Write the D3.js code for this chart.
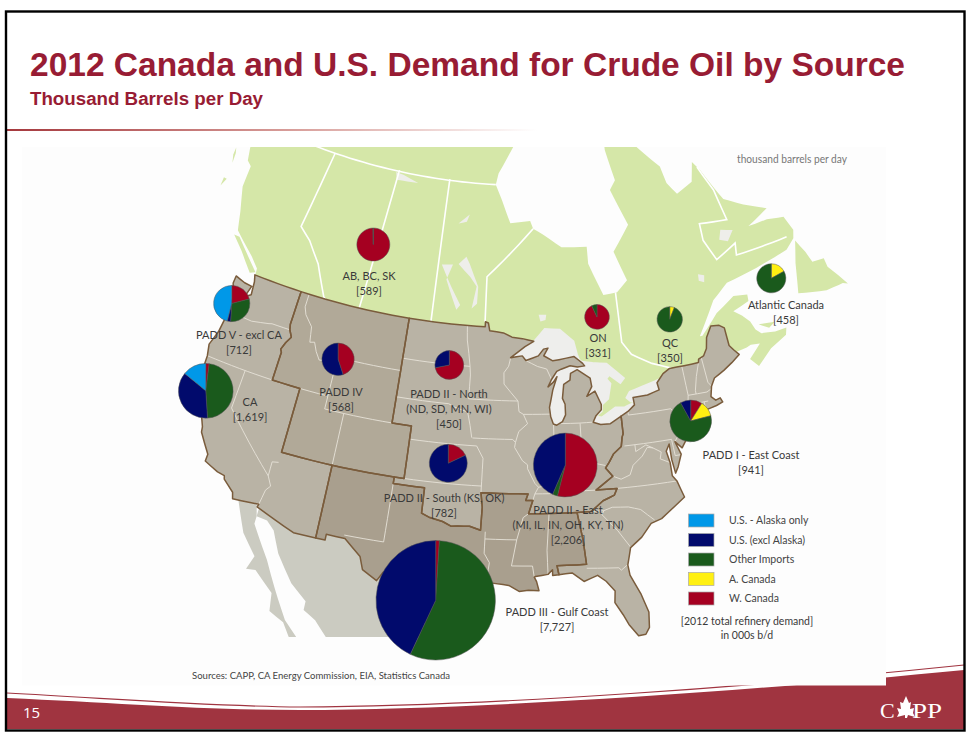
<!DOCTYPE html>
<html lang="en">
<head>
<meta charset="UTF-8">
<title>2012 Canada and U.S. Demand for Crude Oil by Source</title>
<script src="https://d3js.org/d3.v7.min.js"></script>
<style>
  body { margin: 0; background: #fff; }
  svg { display: block; }
</style>
</head>
<body>
<script>
// ---- chart data: share of each region's refinery demand, percent
var sources = ["W. Canada", "A. Canada", "Other Imports", "U.S. (excl Alaska)", "U.S. - Alaska only"];
var sourceColors = ["#a50021", "#fff012", "#1a5a1c", "#010a6c", "#0098e8"];
var legendOrder = [4, 3, 2, 1, 0];

var regions = ["AB, BC, SK", "PADD V - excl CA", "CA", "PADD IV", "PADD II - North", "PADD II - South", "PADD II - East", "PADD III", "PADD I", "ON", "QC", "Atlantic Canada"];
var totals = [589, 712, 1619, 568, 450, 782, 2206, 7727, 941, 331, 350, 458];
var wCanada = [99.7, 21, 2, 45, 72, 18, 54, 1, 9, 93, 0, 0];
var aCanada = [0, 0, 0, 0, 0, 0, 0, 0, 12, 0, 6, 17];
var otherImports = [0.3, 30, 47, 0, 0, 0, 2.5, 56, 71, 7, 94, 83];
var usExAlaska = [0, 3, 37, 55, 28, 82, 43.5, 43, 8, 0, 0, 0];
var alaskaOnly = [0, 46, 14, 0, 0, 0, 0, 0, 0, 0, 0, 0];

// where each pie sits on the map, lon/lat
var pieSites = [[-110.13,53.96],[-123.95,46.33],[-122.99,39.51],[-110.95,44.87],[-98.85,45.90],[-97.97,38.53],[-86.50,38.63],[-97.95,28.03],[-73.56,40.82],[-82.02,49.60],[-73.65,48.63],[-60.92,49.58]];

var labelLines = [
  ["AB, BC, SK", "[589]"], ["PADD V - excl CA", "[712]"], ["CA", "[1,619]"], ["PADD IV", "[568]"],
  ["PADD II - North", "(ND, SD, MN, WI)", "[450]"], ["PADD II - South (KS, OK)", "[782]"],
  ["PADD II - East", "(MI, IL, IN, OH, KY, TN)", "[2,206]"], ["PADD III - Gulf Coast", "[7,727]"],
  ["PADD I - East Coast", "[941]"], ["ON", "[331]"], ["QC", "[350]"], ["Atlantic Canada", "[458]"]
];
var labelAt = [[369, 280], [239, 339], [250, 406], [341, 396], [449, 398], [444, 502], [568, 514], [557, 616], [751, 459], [598, 342], [670, 347], [786, 309]];

// ---- map outlines, lon/lat
var north49 = [[-104.05,49],[-117.03,49]];
var paddVIV = [[-117.03,49],[-117.04,46.4],[-116.9,46],[-116.5,45.5],[-116.9,45],[-117.2,44.4],[-117.03,44.2],[-117.03,42],[-114.05,42],[-114.05,37],[-109.05,37]];
var paddIVII = [[-104.05,49],[-104.05,41],[-102.05,41],[-102.05,37],[-103,37]];
var paddIVIII = [[-103,37],[-109.05,37]];
var paddVIII = [[-109.05,37],[-109.05,31.33]];
var paddIIIII = [[-103,37],[-103,36.5],[-100,36.5],[-100,34.56],[-99.2,34.3],[-98,34.1],[-97.2,33.8],[-96.6,33.85],[-95.5,33.9],[-94.48,33.64],[-94.43,35.4],[-94.62,36.5],[-90.15,36.5],[-90.37,36],[-89.7,36],[-90.1,35],[-88.2,35],[-85.6,35]];
var paddIIII = [[-85.6,35],[-85.18,32.87],[-85,31],[-87.6,31],[-87.45,30.3]];
var paddIII = [[-80.52,41.98],[-80.52,40.64],[-80.66,40.4],[-80.85,39.7],[-81.7,39.2],[-82.2,38.6],[-82.6,38.2],[-81.97,37.54],[-83.68,36.6],[-81.68,36.59],[-82,36.1],[-83.1,35.75],[-84.3,35],[-85.6,35]];
var paddVCoast = [[-117.03,49],[-122.75,49],[-122.5,48.5],[-122.3,47.5],[-122.9,47.2],[-122.6,48.1],[-123.5,48.15],[-124.7,48.38],[-124.7,47.8],[-124.1,46.9],[-124,46.2],[-124,45],[-124.1,44],[-124.5,42.85],[-124.2,42],[-124.1,41],[-124.4,40.4],[-123.8,39.3],[-123,38.3],[-122.5,37.7],[-122,36.9],[-121.9,36.5],[-120.6,35.1],[-120.6,34.55],[-119.2,34.1],[-118.5,34],[-118.4,33.75],[-117.3,33],[-117.12,32.53],[-114.72,32.72],[-114.8,32.5],[-111.07,31.33],[-109.05,31.33]];
var paddIIICoast = [[-109.05,31.33],[-108.2,31.33],[-108.2,31.78],[-106.5,31.75],[-104.9,30.6],[-104.5,29.65],[-103.15,28.98],[-102.7,29.7],[-102.3,29.88],[-101.4,29.77],[-100.3,28.3],[-99.5,27.5],[-99.1,26.4],[-97.15,25.95],[-97.4,26.9],[-97.2,27.7],[-96.4,28.35],[-95.3,28.9],[-94.7,29.4],[-93.85,29.7],[-92.3,29.55],[-91.8,29.5],[-90.9,29.05],[-90.1,29.15],[-89.2,29.1],[-89.4,29.8],[-89.6,30.15],[-89.5,30.2],[-88.4,30.35],[-88,30.7],[-88,30.25],[-87.45,30.3]];
var paddIILakes = [[-104.05,49],[-95.15,49],[-95.15,49.38],[-94.8,49.3],[-94.6,48.72],[-93,48.6],[-92,48.3],[-90.8,48.2],[-89.5,48],[-90.5,47.6],[-92.1,46.75],[-90.8,46.9],[-90.4,46.55],[-89,46.9],[-88.4,47.4],[-87.9,47.47],[-88.4,46.9],[-87.4,46.5],[-86,46.65],[-85,46.75],[-84.5,46.45],[-84.1,46.2],[-83.9,46],[-84.7,45.95],[-85.5,46.08],[-86.5,45.85],[-87,45.7],[-87.6,45.1],[-88,44.55],[-87.4,44.9],[-87,45.3],[-87.5,44.3],[-87.9,43],[-87.8,42.3],[-87.55,41.75],[-87.2,41.65],[-86.6,41.9],[-86.25,42.4],[-86.25,43.2],[-86.5,43.65],[-86.3,44.7],[-85.6,45],[-85.5,45.5],[-84.75,45.75],[-83.4,45.05],[-83.3,44.4],[-83.9,43.7],[-83,44.05],[-82.45,43],[-82.5,42.6],[-83.1,42.2],[-83.45,41.72],[-82.7,41.5],[-81.7,41.5],[-80.52,41.98]];
var paddICoast = [[-80.52,41.98],[-79.76,42.27],[-79,42.7],[-79.05,43.27],[-77.5,43.3],[-76.2,43.55],[-76.3,44.1],[-75.5,44.7],[-74.7,45],[-71.5,45],[-71.4,45.25],[-70.8,45.4],[-70.3,45.9],[-70,46.7],[-69.23,47.46],[-68.3,47.36],[-67.8,47.07],[-67.8,45.7],[-67.45,45.3],[-67,44.85],[-68,44.4],[-69,44],[-70.2,43.6],[-70.7,43.05],[-70.8,42.8],[-71,42.3],[-70.6,41.95],[-70.1,42.05],[-69.95,41.7],[-70.65,41.55],[-71.4,41.45],[-72.9,41.25],[-73.65,40.98],[-72,41.05],[-72.8,40.7],[-74,40.55],[-74,40.45],[-74.1,39.75],[-74.9,38.95],[-75.5,39.5],[-75.1,38.5],[-75.6,37.6],[-75.95,37.15],[-76.1,38.2],[-76.1,39.4],[-76.5,38.9],[-76.3,38],[-76.3,37],[-75.95,36.55],[-75.5,35.25],[-76.5,34.7],[-77.9,33.9],[-78.9,33.65],[-79.9,32.7],[-81,32],[-81.4,30.7],[-81.3,29.9],[-80.55,28.4],[-80.05,26.9],[-80.15,25.7],[-80.5,25.2],[-81.1,25.15],[-81.8,26.1],[-82.2,26.9],[-82.8,27.9],[-82.7,28.8],[-83.4,29.6],[-84.1,30.1],[-85.3,29.7],[-86.3,30.4],[-87.45,30.3]];

var rev = function(a) { return a.slice().reverse(); };
var paddV = [].concat(paddVIV, paddVIII, rev(paddVCoast));
var paddIV = [].concat(north49, paddVIV, rev(paddIVIII), rev(paddIVII));
var paddII = [].concat(paddIILakes, paddIII, rev(paddIIIII), rev(paddIVII));
var paddIII_ = [].concat(paddIVIII, paddVIII, paddIIICoast, rev(paddIIII), rev(paddIIIII));
var paddI = [].concat(paddICoast, rev(paddIIII), rev(paddIII));

var canada = [[-122.7,49],[-122.8,49.5],[-123.9,50.2],[-125.7,51.1],[-126.7,51.6],[-127.4,53],[-128.5,54.8],[-128.7,56.5],[-129.4,56.8],[-129.9,57.8],[-130,62],[-130,72],[-92.6,72],[-92.6,63.1],[-94.6,60.9],[-94.9,60],[-93.9,58.8],[-92.6,57],[-89.9,57.2],[-89.5,56.6],[-88.1,56.1],[-85.8,55.1],[-82.5,55],[-82.5,53.7],[-81,51.2],[-79.3,51.3],[-77.9,52.1],[-79.1,54.4],[-76.7,56.3],[-78.5,59.2],[-77.6,59.9],[-78.5,62.4],[-78.5,66],[-73.6,66],[-73.6,62.2],[-70.8,60.3],[-70.4,58.9],[-69.3,57.9],[-66.9,58.5],[-66.1,60],[-65.3,59.2],[-64.2,57.6],[-63.4,56.5],[-61.1,55.6],[-58.4,54.7],[-61.4,53.9],[-58.9,53.9],[-56.8,53.6],[-56.3,52.4],[-56.7,51.8],[-58,51.2],[-62.2,50.7],[-66.1,50.3],[-68.2,49.3],[-70.7,46.9],[-70.4,46.9],[-68.2,48.3],[-65.8,49.2],[-64.2,49],[-64.3,48.5],[-66.3,48.1],[-65.5,47.6],[-64.8,47],[-64.5,46.3],[-64,45.9],[-62.5,45.7],[-61.2,45.7],[-61.5,45.2],[-63.5,44.6],[-65.3,43.6],[-66,44.3],[-64.5,45.2],[-65.5,45.3],[-66,45.2],[-67.1,45.1],[-72,44.5],[-76,43.8],[-79,42.9],[-83,41.8],[-82.6,43],[-84,46],[-88,47],[-89.5,47.8],[-92,48],[-95,48.8],[-122.7,48.8]];
var vancouverIs = [[-126.9,51.2],[-125.3,50.3],[-123.4,49],[-122.8,49.2],[-124.3,50.1],[-126.2,51.2]];
var haidaGwaii = [[-131.6,57.3],[-131.5,56.7],[-131.1,56.1],[-131.3,56.9]];
var islandTwo = [[-131.1,54.1],[-130.8,54.8],[-131.2,54.8]];
var newfoundland = [[-56.6,51.6],[-57.6,50],[-58.6,47.8],[-55.5,47.2],[-54,47.2],[-53.5,47.2],[-53,47],[-53.6,47.9],[-54.3,48.8],[-54.3,49.5],[-55.7,49.6],[-56,50.5]];
var pei = [[-64,46.6],[-62.2,46.4],[-63,46.1]];
var lakesCanada = [
  [[-109.4,59.9],[-109.1,59.3],[-106,59.4],[-108.3,59.8]],
  [[-99.6,56.7],[-98.2,57.5],[-98.5,56.9]],
  [[-98.1,54.2],[-99,53.6],[-97.4,52.7],[-96.5,52],[-96.9,50.3],[-96.3,50.7],[-96.3,52],[-97.6,53.7]],
  [[-101.1,53.4],[-99.7,53.5],[-100.3,52.3],[-98.7,50.1],[-98.3,50.5],[-99.6,51.8]],
  [[-88.9,50],[-88,50],[-88.1,49.6],[-88.7,49.5]],
  [[-69.2,51.5],[-68.5,51.3],[-68.7,50.8],[-69.3,51]],
  [[-65,54.3],[-63.5,54],[-64.5,53.3],[-65.5,53.6]]
];
var mexicoBaja = [[-116.6,32.6],[-115.3,30.3],[-113.8,28.8],[-114.2,27.7],[-113.4,27.8],[-111.6,26.4],[-111.4,25],[-110.1,24.4],[-109.4,23.4],[-109,22.8],[-108.4,22.9],[-108.8,23.5],[-110,24.6],[-111.5,26.9],[-112.7,28.8],[-114.6,31.2],[-114.6,31.8],[-115,33]];
var mexicoMain = [[-114.6,33],[-114.6,31.8],[-113.6,31.7],[-112.8,31.1],[-111.9,29.5],[-110.2,27.5],[-108.7,26.4],[-108.7,25.7],[-107.6,25.1],[-106.5,24],[-105,22],[-97,20],[-97.8,22.5],[-97.15,25.95],[-100,30],[-108,33]];
var lakeSuperior = [[-92.1,46.75],[-90.5,47.6],[-89.4,48],[-88.2,48.9],[-86.5,48.8],[-85,47.9],[-84.7,46.9],[-84.5,46.5],[-84.1,46.2],[-85,46],[-89,46]];
var lakeHuron = [[-84.2,46.3],[-83,46.15],[-81.5,46],[-80.5,45.3],[-79.8,44.8],[-80.2,44.5],[-81.3,45.2],[-81.7,44.9],[-81.3,44.5],[-81.7,43.4],[-82.4,43],[-82.5,42.5],[-83.1,42.2],[-83.5,43],[-84.5,45]];
var lakeErie = [[-83.5,41.7],[-83.1,42.1],[-82.5,42],[-81,42.65],[-80,42.6],[-79,42.85],[-79,42.3],[-81,41]];
var lakeOntario = [[-79.3,43],[-79.7,43.3],[-79.3,43.7],[-78,43.95],[-76.5,44.2],[-76,44.3],[-76,43],[-78,43]];
var lakeMichigan = [[-87.8,46],[-88.2,44],[-87.9,41.4],[-86,41.4],[-85.5,45],[-84.5,46.1]];

var provinceLines = [
  [[-130,60],[-94.9,60]],
  [[-118.6,60],[-119.6,53.7],[-118,52.9],[-116.1,51.4],[-114.3,49.1],[-114.07,49]],
  [[-109,60.1],[-110,49]],
  [[-101.6,60.1],[-101.5,49]],
  [[-95.2,49.38],[-95.3,52.8],[-89.5,56.6]],
  [[-79.5,51.3],[-79.5,47.5],[-78.6,46.5],[-76.5,45.6],[-74.5,45]],
  [[-57.4,52.1],[-64,52.1],[-63.7,53],[-66.5,52.2],[-67.5,53.9],[-67.4,55.2],[-63.8,54.9],[-64.3,57.4],[-65.6,59.5]]
];
var stateLines = [
  [[-124,46.25],[-123.2,46.15],[-122.8,45.7],[-121.2,45.65],[-119.3,45.93],[-118.98,46],[-116.92,46]],
  [[-124.2,42],[-117.03,42]],
  [[-120,42],[-120,39],[-114.63,35],[-114.15,34.3],[-114.5,33.9],[-114.72,32.72]],
  [[-114.63,35],[-114.65,36.1],[-114.05,36.2]],
  [[-116.05,49],[-116.05,48],[-115.7,47.45],[-114.7,46.7],[-114.4,45.55],[-113.9,45.65],[-113.45,45],[-112.9,44.45],[-111.5,44.6],[-111.05,44.5]],
  [[-111.05,45],[-111.05,41],[-109.05,41]],
  [[-114.05,42],[-111.05,42]],
  [[-111.05,45],[-104.05,45]],
  [[-109.05,41],[-104.05,41]],
  [[-109.05,41],[-109.05,37]],
  [[-104.05,45.94],[-96.56,45.94]],
  [[-97.23,49],[-97.1,47.9],[-96.8,46.9],[-96.56,45.94],[-96.45,45.3],[-96.45,43.5],[-91.22,43.5]],
  [[-104.05,43],[-98.5,43],[-97.9,42.8],[-96.45,42.5],[-96.1,41.5],[-95.85,40.6]],
  [[-102.05,40],[-95.3,40],[-94.6,39.1],[-94.62,36.5]],
  [[-95.77,40.58],[-91.7,40.6],[-91.42,40.38]],
  [[-102.05,37],[-94.62,37]],
  [[-92.1,46.75],[-92.3,46.1],[-92.8,45.6],[-92.75,44.75],[-91.22,43.5],[-91.1,42.7],[-90.64,42.5],[-87.8,42.5]],
  [[-90.64,42.5],[-90.2,41.8],[-91.1,41.2],[-91.42,40.38],[-91.5,40],[-90.7,39],[-90.2,38.7],[-90.2,38.4],[-89.5,37.3],[-89.15,37],[-89.5,36.5],[-89.7,36]],
  [[-87.53,41.7],[-87.53,39.35],[-87.6,38.7],[-88.05,37.8],[-88.5,37.1],[-89.15,37]],
  [[-84.8,41.7],[-84.8,39.1],[-85.4,38.7],[-86,38],[-87,37.9],[-88.05,37.8]],
  [[-84.8,39.1],[-84.3,38.8],[-83.7,38.65],[-82.6,38.4]],
  [[-89.5,36.5],[-88.05,36.5],[-88.05,36.65],[-83.68,36.6]],
  [[-86.8,41.76],[-84.8,41.73],[-83.45,41.73]],
  [[-90.4,46.55],[-89.1,46.1],[-88.1,45.9],[-87.6,45.1]],
  [[-103,36.5],[-103.06,32],[-106.62,32]],
  [[-94.04,33.55],[-94.04,33],[-91.17,33]],
  [[-94.04,33],[-94.05,31.9],[-93.55,31.2],[-93.7,30.1],[-93.85,29.7]],
  [[-90.1,35],[-90.6,34.7],[-91.17,33],[-91.6,31],[-89.75,31],[-89.6,30.15]],
  [[-88.2,35],[-88.45,32.2],[-88.4,30.35]],
  [[-85,30.7],[-82.2,30.55],[-82,30.35],[-81.45,30.7]],
  [[-83.1,35],[-83.3,34.7],[-82,33.4],[-81,32.05]],
  [[-84.3,35],[-83.1,35],[-82.3,35.2],[-80.8,35.1],[-79.7,34.8],[-78.55,33.87]],
  [[-81.68,36.59],[-75.9,36.55]],
  [[-81.97,37.54],[-81.2,37.25],[-80.3,37.5],[-79.9,38.2],[-78.9,38.8],[-78.3,39.4],[-77.75,39.3],[-77,38.9],[-77.2,38.4],[-76.3,38]],
  [[-77.75,39.3],[-78.4,39.6],[-79.48,39.2],[-79.48,39.72]],
  [[-80.52,39.72],[-75.79,39.72],[-75.7,38.46],[-75.1,38.46]],
  [[-79.76,42.27],[-79.76,42],[-75.35,42],[-74.7,41.35],[-75.1,40.9],[-74.75,40.2],[-75.5,39.5]],
  [[-74.7,41.35],[-73.9,41]],
  [[-73.65,41],[-73.5,42.05],[-73.3,42.75],[-73.35,45]],
  [[-73.5,42.05],[-71.38,42.02]],
  [[-71.8,42.02],[-71.85,41.32]],
  [[-73.3,42.75],[-71.3,42.7],[-70.8,42.87]],
  [[-71.5,45],[-72.05,44],[-72.45,43],[-72.46,42.73]],
  [[-71.08,45.3],[-70.98,43.4],[-70.7,43.05]]
];

var width = 976, height = 747;
var svg = d3.select("body").append("svg").attr("width", width).attr("height", height);
var defs = svg.append("defs");

var grad = defs.append("linearGradient").attr("id", "rule");
grad.append("stop").attr("offset", "0").attr("stop-color", "#a5383d");
grad.append("stop").attr("offset", "0.55").attr("stop-color", "#d9a09c");
grad.append("stop").attr("offset", "1").attr("stop-color", "#fff");

defs.append("clipPath").attr("id", "panel").append("rect").attr("x", 22).attr("y", 147).attr("width", 863).attr("height", 538);
defs.append("clipPath").attr("id", "mexico").append("rect").attr("x", 22).attr("y", 147).attr("width", 863).attr("height", 490);

// footer band
svg.append("path").attr("d", "M7,698 C120,703 200,710 300,710 C500,709 760,690 964,670 L964,729 L7,729 Z").attr("fill", "#a03440");
svg.append("path").attr("d", "M7,693 C120,699 200,706 300,707 C500,706 760,686 964,665").attr("fill", "none").attr("stroke", "#a03440").attr("stroke-width", 1.2);

// map panel covers the band on the right
svg.append("rect").attr("x", 22).attr("y", 147).attr("width", 864).attr("height", 538.5).attr("fill", "#fdfdfd");

var projection = d3.geoConicEqualArea()
  .rotate([91.71, 0, -1.49]).parallels([34.64, 51.24]).scale(753.74).translate([500, 531.24]);

// planar steps so that parallels stay curved on the conic
function densify(ring, closed) {
  var pts = closed ? ring.concat([ring[0]]) : ring, out = [];
  pts.forEach(function(p, i) {
    if (i === 0) { out.push(p); return; }
    var q = pts[i - 1], n = Math.ceil(Math.max(Math.abs(p[0] - q[0]), Math.abs(p[1] - q[1])));
    for (var k = 1; k <= n; k++) out.push([q[0] + (p[0] - q[0]) * k / n, q[1] + (p[1] - q[1]) * k / n]);
  });
  return out;
}
var line = d3.line();
function ringPath(ring) { return line(densify(ring, true).map(projection)) + "Z"; }
function openPath(pts) { return line(densify(pts, false).map(projection)); }

var map = svg.append("g").attr("clip-path", "url(#panel)");

map.append("g").attr("clip-path", "url(#mexico)").selectAll("path").data([mexicoBaja, mexicoMain]).join("path")
  .attr("d", ringPath).attr("fill", "#cbcbc1");

map.selectAll(".ca").data([canada, vancouverIs, haidaGwaii, islandTwo, newfoundland, pei]).join("path")
  .attr("class", "ca").attr("d", ringPath).attr("fill", "#d5e7a8");

map.selectAll(".inland").data(lakesCanada).join("path").attr("class", "inland")
  .attr("d", ringPath).attr("fill", "#eeeeea");

map.selectAll(".prov").data(provinceLines).join("path").attr("class", "prov")
  .attr("d", openPath).attr("fill", "none").attr("stroke", "#fff").attr("stroke-width", 1.6);

map.selectAll(".lake").data([lakeSuperior, lakeHuron, lakeErie, lakeOntario, lakeMichigan]).join("path").attr("class", "lake")
  .attr("d", ringPath).attr("fill", "#eeeeec").attr("stroke", "#eeeeec").attr("stroke-width", 2.5);

var paddRings = [
  { ring: paddV, fill: "#b9b3a5" }, { ring: paddIV, fill: "#b1a998" }, { ring: paddII, fill: "#b9b3a5" },
  { ring: paddI, fill: "#b9b3a5" }, { ring: paddIII_, fill: "#a99f8e" }
];
map.selectAll(".padd").data(paddRings).join("path").attr("class", "padd")
  .attr("d", function(d) { return ringPath(d.ring); }).attr("fill", function(d) { return d.fill; });

map.selectAll(".state").data(stateLines).join("path").attr("class", "state")
  .attr("d", openPath).attr("fill", "none").attr("stroke", "#e6e2d8").attr("stroke-width", 0.9);

map.selectAll(".pline").data(paddRings).join("path").attr("class", "pline")
  .attr("d", function(d) { return ringPath(d.ring); }).attr("fill", "none")
  .attr("stroke", "#7a5c3c").attr("stroke-width", 1.5).attr("stroke-linejoin", "round");

// pies
var radius = d3.scaleSqrt().domain([0, 7727]).range([0, 59.7]);
var pie = d3.pie().sort(null).value(function(d) { return d.v; });
var arc = d3.arc().innerRadius(0);

regions.forEach(function(name, i) {
  var slices = [wCanada, aCanada, otherImports, usExAlaska, alaskaOnly].map(function(s, j) { return { v: s[i], j: j }; }).filter(function(d) { return d.v > 0; });
  var r = radius(totals[i]);
  svg.append("g").attr("transform", "translate(" + projection(pieSites[i]) + ")")
    .selectAll("path").data(pie(slices)).join("path")
    .attr("d", function(d) { return arc.outerRadius(r)(d); })
    .attr("fill", function(d) { return sourceColors[d.data.j]; })
    .attr("stroke", "#555").attr("stroke-width", 0.5);
});

var labelFont = "Lato, 'Open Sans', sans-serif";
labelLines.forEach(function(lines, i) {
  svg.append("g").selectAll("text").data(lines).join("text")
    .attr("x", labelAt[i][0]).attr("y", function(d, k) { return labelAt[i][1] + k * 15; })
    .attr("text-anchor", "middle").attr("font-family", labelFont).attr("font-size", 11).attr("fill", "#3a3a3a")
    .text(function(d) { return d; });
});

// legend
var legendY = d3.scalePoint().domain(legendOrder).range([514, 592]);
var legend = svg.append("g").selectAll("g").data(legendOrder).join("g");
legend.append("rect").attr("x", 688.5).attr("y", function(d) { return legendY(d); }).attr("width", 25.5).attr("height", 13)
  .attr("fill", function(d) { return sourceColors[d]; }).attr("stroke", "#aaa").attr("stroke-width", 0.7);
legend.append("text").attr("x", 729).attr("y", function(d) { return legendY(d) + 10; })
  .attr("font-family", labelFont).attr("font-size", 10.5).attr("fill", "#444").text(function(d) { return sources[d]; });

svg.append("text").attr("x", 747).attr("y", 625).attr("text-anchor", "middle").attr("font-family", labelFont).attr("font-size", 10.5).attr("fill", "#3a3a3a").text("[2012 total refinery demand]");
svg.append("text").attr("x", 747).attr("y", 639).attr("text-anchor", "middle").attr("font-family", labelFont).attr("font-size", 10.5).attr("fill", "#3a3a3a").text("in 000s b/d");
svg.append("text").attr("x", 192).attr("y", 679).attr("font-family", labelFont).attr("font-size", 10).attr("fill", "#444").attr("textLength", 258).attr("lengthAdjust", "spacingAndGlyphs").text("Sources: CAPP, CA Energy Commission, EIA, Statistics Canada");
svg.append("text").attr("x", 737).attr("y", 163).attr("font-family", labelFont).attr("font-size", 11.5).attr("fill", "#777").attr("textLength", 110).attr("lengthAdjust", "spacingAndGlyphs").text("thousand barrels per day");

// slide furniture
svg.append("text").attr("x", 30).attr("y", 76).attr("font-family", "'Liberation Sans', sans-serif").attr("font-weight", "bold").attr("font-size", 33)
  .attr("textLength", 875).attr("lengthAdjust", "spacingAndGlyphs").attr("fill", "#981c34").text("2012 Canada and U.S. Demand for Crude Oil by Source");
svg.append("text").attr("x", 30).attr("y", 105).attr("font-family", "'Liberation Sans', sans-serif").attr("font-weight", "bold").attr("font-size", 18)
  .attr("textLength", 233).attr("lengthAdjust", "spacingAndGlyphs").attr("fill", "#981c34").text("Thousand Barrels per Day");
svg.append("rect").attr("x", 7).attr("y", 129).attr("width", 530).attr("height", 2).attr("fill", "url(#rule)");

svg.append("text").attr("x", 23).attr("y", 718).attr("font-family", "'Open Sans', sans-serif").attr("font-size", 15).attr("fill", "#fff").text("15");
svg.append("text").attr("x", 880).attr("y", 718).attr("font-family", "'Liberation Serif', serif").attr("font-size", 22).attr("fill", "#fff").text("C");
svg.append("text").attr("x", 912).attr("y", 718).attr("font-family", "'Liberation Serif', serif").attr("font-size", 22).attr("textLength", 30).attr("lengthAdjust", "spacingAndGlyphs").attr("fill", "#fff").text("PP");
svg.append("path").attr("d", "M906,696 L909,703 L911,702 L910,709 L914,708 L913,713 L915,717 L908,715 L907,718 L905,718 L905,715 L897,717 L899,713 L897,708 L901,709 L900,702 L903,703 Z").attr("fill", "#fff");

svg.append("rect").attr("x", 6).attr("y", 11.5).attr("width", 958.5).attr("height", 719).attr("fill", "none").attr("stroke", "#000").attr("stroke-width", 2.4);
</script>
</body>
</html>
